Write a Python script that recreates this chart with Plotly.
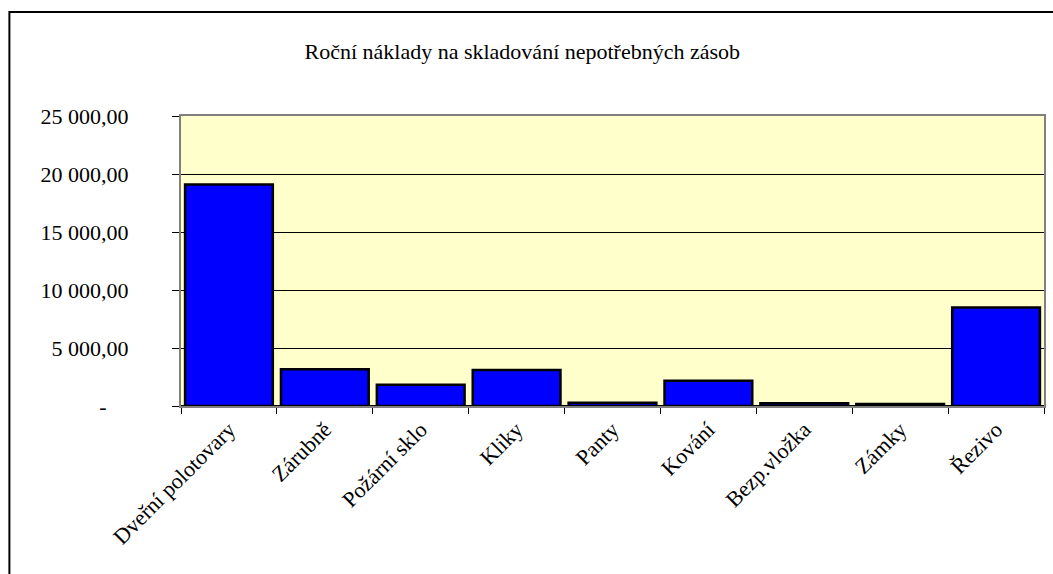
import plotly.graph_objects as go

# Roční náklady na skladování nepotřebných zásob (Kč)
categories = ["Dveřní polotovary", "Zárubně", "Požární sklo", "Kliky", "Panty",
              "Kování", "Bezp.vložka", "Zámky", "Řezivo"]
costs = [19100, 3160, 1840, 3100, 280, 2180, 230, 170, 8500]

y_tick_values = [0, 5000, 10000, 15000, 20000, 25000]
y_tick_labels = ["-" + "\u00a0" * 4, "5 000,00", "10 000,00", "15 000,00",
                 "20 000,00", "25 000,00"]

FONT = "Liberation Serif"
SIZE = 22

fig = go.Figure(
    go.Bar(
        x=categories,
        y=costs,
        marker=dict(color="#0000FF", line=dict(color="#000000", width=2.5)),
        hoverinfo="x+y",
    )
)

fig.update_layout(
    width=1053,
    height=574,
    margin=dict(l=181, r=7, t=116, b=168),
    paper_bgcolor="#FFFFFF",
    plot_bgcolor="#FFFFCC",
    bargap=0.085,
    showlegend=False,
    font=dict(family=FONT, size=SIZE, color="#000000"),
    title=dict(
        text="Roční náklady na skladování nepotřebných zásob",
        xref="container", yref="container",
        x=0.496, y=0.911, xanchor="center", yanchor="middle",
        font=dict(family=FONT, size=SIZE, color="#000000"),
    ),
    xaxis=dict(
        type="category",
        tickangle=-45,
        ticks="outside",
        tickson="boundaries",
        ticklen=6,
        tickcolor="#000000",
        showline=True,
        linecolor="#808080",
        linewidth=2,
        mirror=True,
        showgrid=False,
        tickfont=dict(family=FONT, size=SIZE),
    ),
    yaxis=dict(
        range=[0, 25000],
        tickvals=y_tick_values,
        ticktext=y_tick_labels,
        ticks="outside",
        ticklen=7,
        tickcolor="#000000",
        ticklabelstandoff=39,
        showline=True,
        linecolor="#808080",
        linewidth=2,
        mirror=True,
        showgrid=True,
        gridcolor="#000000",
        gridwidth=1,
        zeroline=True,
        zerolinecolor="#000000",
        zerolinewidth=2,
        tickfont=dict(family=FONT, size=SIZE),
    ),
    shapes=[
        # outer chart frame
        dict(
            type="rect", xref="paper", yref="paper",
            x0=(9 - 181) / 865, x1=(1070 - 181) / 865,
            y0=(406 - 600) / 290, y1=(406 - 12) / 290,
            line=dict(color="#000000", width=2),
            fillcolor="rgba(0,0,0,0)",
            layer="above",
        )
    ],
)

fig.write_html("out.html")
